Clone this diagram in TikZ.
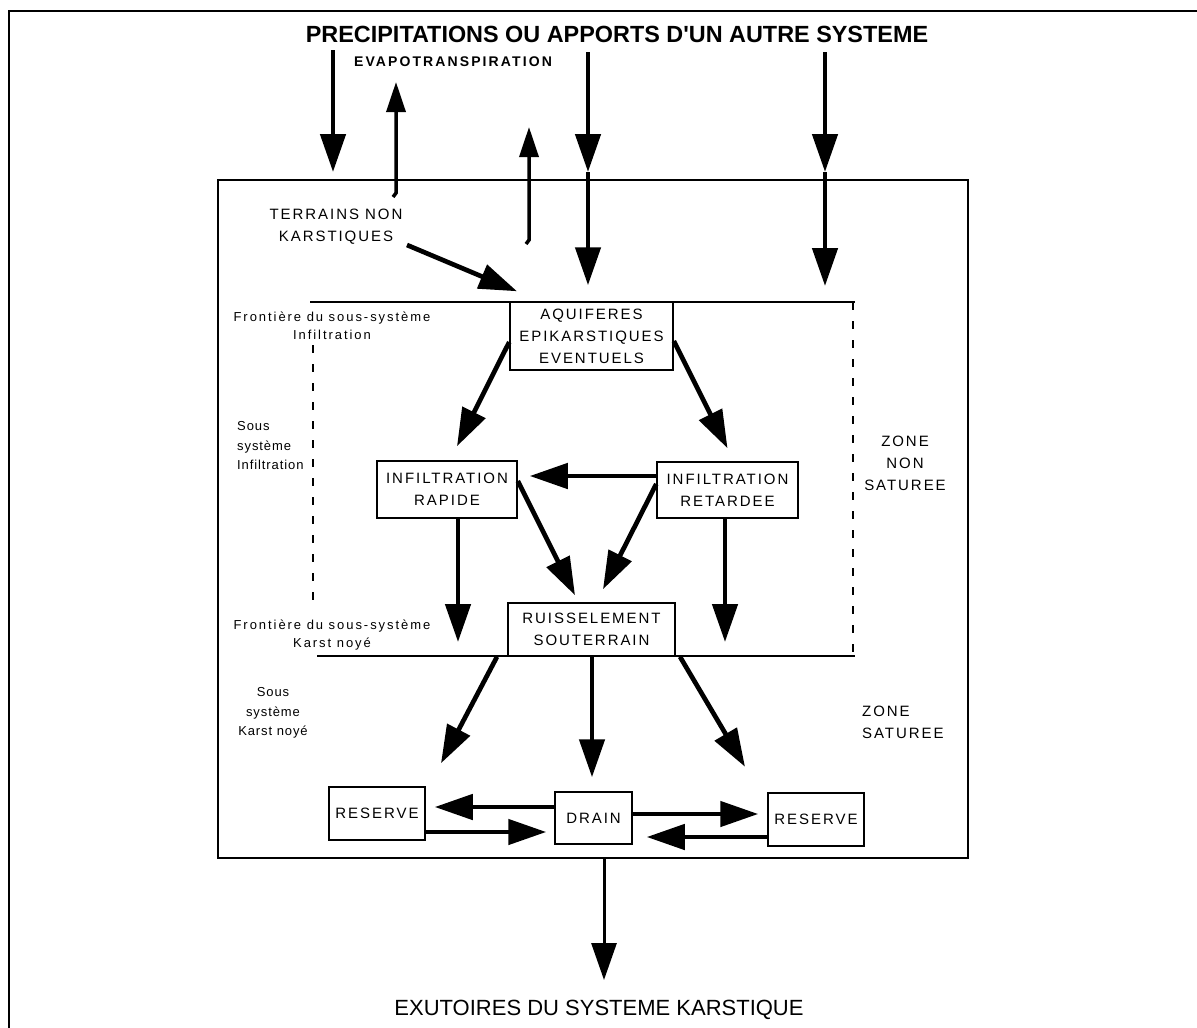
\documentclass[tikz,border=0pt]{standalone}
\usepackage{fontspec}
\setmainfont{Liberation Sans}
\newfontfamily\boxfont[LetterSpace=13]{Liberation Sans}
\newfontfamily\labfont[LetterSpace=15]{Liberation Sans}
\newfontfamily\sublabfont[LetterSpace=7]{Liberation Sans}
\newfontfamily\evfont[LetterSpace=15]{Liberation Sans}
\newfontfamily\titlefont[Ligatures=TeXOff]{Liberation Sans}
\usetikzlibrary{arrows.meta}
\tikzset{
 box/.style={draw, line width=1.5pt, inner sep=0pt, align=center, font=\boxfont\fontsize{15pt}{22pt}\selectfont},
 caps/.style={inner sep=0pt, align=center, font=\boxfont\fontsize{15pt}{22pt}\selectfont},
 lab/.style={inner sep=0pt, align=center, font=\labfont\fontsize{13pt}{18.5pt}\selectfont},
 sublab/.style={inner sep=0pt, align=center, font=\sublabfont\fontsize{13pt}{19.5pt}\selectfont},
 bigarrow/.style={line width=4.7pt, -{Triangle[length=38pt,width=25pt]}},
 thinarrow/.style={line width=3.5pt, -{Triangle[length=30pt,width=19pt]}},
 outarrow/.style={line width=3pt, -{Triangle[length=37pt,width=25pt]}},
 sysline/.style={line width=1.5pt},
 dashline/.style={line width=1.5pt, dash pattern=on 8pt off 11pt},
}
\begin{document}
\begin{tikzpicture}[x=1pt,y=-1pt]
\useasboundingbox (0,0) rectangle (1197,1028);
\clip (0,0) rectangle (1197,1028);
\fill[white] (0,0) rectangle (1197,1028);
% outer frame (cropped)
\draw[line width=2.5pt] (9,1040) -- (9,11) -- (1210,11);
% system frame
\node[draw, line width=1.5pt, minimum width=750pt, minimum height=678pt, inner sep=0pt] (sys) at (593,519) {};
% titles
\node[font=\titlefont\bfseries\fontsize{23.4pt}{27pt}\selectfont, inner sep=0pt] (title) at (617,34) {PRECIPITATIONS OU APPORTS D'UN AUTRE SYSTEME};
\node[font=\evfont\bfseries\fontsize{14pt}{17pt}\selectfont, inner sep=0pt] (evap) at (453,62) {EVAPOTRANSPIRATION};
\node[font=\fontsize{22pt}{26pt}\selectfont, inner sep=0pt] (exit) at (599,1010) {EXUTOIRES DU SYSTEME KARSTIQUE};
% labels
\node[caps] (terr) at (336,227) {TERRAINS NON\\KARSTIQUES};
\node[lab] (f1) at (332,326) {Frontière du sous-système\\Infiltration};
\node[sublab, align=left, anchor=west] (si) at (237,446) {Sous\\système\\Infiltration};
\node[lab] (f2) at (332,635) {Frontière du sous-système\\Karst noyé};
\node[sublab] (sk) at (273,713) {Sous\\système\\Karst noyé};
\node[caps] (zns) at (905,463) {ZONE\\NON\\SATUREE};
\node[caps, align=left, anchor=west] (zs) at (862,722) {ZONE\\SATUREE};
% boundary lines
\draw[sysline] (310,302) -- (855,302);
\draw[sysline] (317,656) -- (855,656);
\draw[dashline] (853,302) -- (853,656);
\draw[dashline] (313,345) -- (313,602);
% boxes
\node[box, fill=white, minimum width=163pt, minimum height=68pt] (aq) at (591.5,336) {AQUIFERES\\EPIKARSTIQUES\\EVENTUELS};
\node[box, minimum width=140pt, minimum height=57pt] (rap) at (447,489.5) {INFILTRATION\\RAPIDE};
\node[box, minimum width=141pt, minimum height=56pt] (ret) at (727.5,490) {INFILTRATION\\RETARDEE};
\node[box, fill=white, minimum width=167pt, minimum height=53pt] (ruis) at (591.5,629.5) {RUISSELEMENT\\SOUTERRAIN};
\node[box, minimum width=96pt, minimum height=53pt] (resL) at (377,813.5) {RESERVE};
\node[box, minimum width=77pt, minimum height=52pt] (drain) at (593.5,818) {DRAIN};
\node[box, minimum width=96pt, minimum height=53pt] (resR) at (816,819.5) {RESERVE};
% free end points
\coordinate (p1s) at (333,50);  \coordinate (p1e) at (333,172);
\coordinate (p2s) at (588,52);  \coordinate (p2m) at (588,172);
\coordinate (p3s) at (825,52);  \coordinate (p3m) at (825,172); \coordinate (p3e) at (825,286);
\coordinate (ev1h) at (393,197); \coordinate (ev1s) at (396,193); \coordinate (ev1e) at (396,82);
\coordinate (ev2h) at (526,244); \coordinate (ev2s) at (529,240); \coordinate (ev2e) at (529,127);
\coordinate (ts) at (407,245);
\coordinate (rapdn) at (458,642);
\coordinate (retdn) at (725,642);
\coordinate (exittip) at (604,980);
% top arrows
\draw[bigarrow] (p1s) -- (p1e);
\draw[bigarrow] (p2s) -- (p2m);
\draw[bigarrow] (p2m) -- ([xshift=-3.5pt,yshift=16pt]aq.north);
\draw[bigarrow] (p3s) -- (p3m);
\draw[bigarrow] (p3m) -- (p3e);
\draw[thinarrow] (ev1h) -- (ev1s) -- (ev1e);
\draw[thinarrow] (ev2h) -- (ev2s) -- (ev2e);
\draw[bigarrow] (ts) -- ([xshift=-74.5pt,yshift=10pt]aq.north);
% infiltration arrows
\draw[bigarrow] ([yshift=-6pt]aq.west) -- ([xshift=10pt,yshift=14pt]rap.north);
\draw[bigarrow] ([yshift=-5pt]aq.east) -- ([yshift=13pt]ret.north);
\draw[bigarrow] ([yshift=14pt]ret.west) -- ([xshift=12pt,yshift=13.5pt]rap.east);
\draw[bigarrow] ([yshift=8.5pt]rap.east) -- ([xshift=-16.5pt,yshift=7pt]ruis.north);
\draw[bigarrow] ([yshift=6pt]ret.west) -- ([xshift=11.5pt,yshift=13pt]ruis.north);
\draw[bigarrow] ([xshift=11pt]rap.south) -- (rapdn);
\draw[bigarrow] ([xshift=-2.5pt]ret.south) -- (retdn);
% saturated zone arrows
\draw[bigarrow] ([xshift=-94.5pt]ruis.south) -- ([xshift=64pt,yshift=23pt]resL.north);
\draw[bigarrow] ([xshift=0.5pt]ruis.south) -- ([xshift=-1.5pt,yshift=14pt]drain.north);
\draw[bigarrow] ([xshift=88.5pt]ruis.south) -- ([xshift=-71pt,yshift=25.5pt]resR.north);
\draw[bigarrow] ([yshift=11pt]drain.west) -- ([xshift=9pt,yshift=6.5pt]resL.east);
\draw[bigarrow] ([yshift=-18.5pt]resL.east) -- ([xshift=-8pt,yshift=-14pt]drain.west);
\draw[bigarrow] ([yshift=4pt]drain.east) -- ([xshift=-9pt,yshift=5.5pt]resR.west);
\draw[bigarrow] ([yshift=-17.5pt]resR.west) -- ([xshift=14pt,yshift=-19pt]drain.east);
% outlet
\draw[outarrow] ([xshift=11pt]sys.south) -- (exittip);
\end{tikzpicture}
\end{document}
